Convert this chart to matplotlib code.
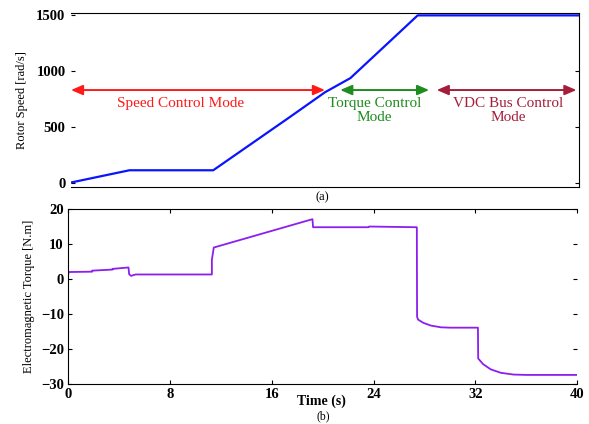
import matplotlib
matplotlib.use('Agg')
import matplotlib.pyplot as plt
import numpy as np

plt.rcParams['font.family'] = ['Liberation Serif', 'DejaVu Serif']

# rotor speed trace (s, rad/s)
speed_t = [0, 4.6, 11.2, 17.2, 20.0, 22.0, 25.1, 27.3, 40]
speed_w = [0, 110, 110, 585, 810, 937, 1266, 1500, 1500]

# electromagnetic torque trace (s, N.m)
torque_t = [0, 0.05, 1.9, 1.9, 3.5, 3.5, 4.75, 4.8, 4.95, 5.3, 11.3, 11.3, 11.45,
            19.2, 19.25, 23.6, 23.65, 27.4, 27.42, 27.5, 27.9, 28.5, 29.3, 30.0,
            32.2, 32.22, 32.6, 33.2, 34.0, 35.0, 36.0, 40]
torque_v = [1.0, 2.0, 2.1, 2.4, 2.7, 2.9, 3.3, 1.4, 0.9, 1.3, 1.3, 5.5, 9.0,
            17.1, 14.8, 14.8, 15.0, 14.8, -10.8, -11.6, -12.5, -13.3, -13.8, -13.9,
            -13.9, -22.7, -24.3, -25.8, -26.8, -27.3, -27.4, -27.4]

# operating modes: (start, end, label, colour)
modes = [(0.0, 20.0, 'Speed Control Mode', '#ff1a1a'),
         (21.2, 28.2, 'Torque Control\nMode', '#1e8c1e'),
         (28.8, 39.8, 'VDC Bus Control\nMode', '#a51d3a')]
mode_text_x = [8.6, 23.9, 34.4]
arrow_level = 830

fig = plt.figure(figsize=(5.89, 4.24), dpi=100)
ax1 = fig.add_axes([0.1205, 0.559, 0.8625, 0.41])
ax2 = fig.add_axes([0.1155, 0.0943, 0.8645, 0.4127])

# (a) rotor speed
ax1.plot(speed_t, speed_w, color='#0a14ff', lw=1.6)
ax1.set_xlim(0, 40)
ax1.set_ylim(-40, 1520)
ax1.set_xticks([])
ax1.set_yticks([0, 500, 1000, 1500])
ax1.spines['left'].set_visible(False)
ax1.tick_params(direction='in', right=True, length=3, labelsize=10.5, pad=4)
ax1.set_ylabel('Rotor Speed [rad/s]', fontsize=9, labelpad=6)
for lbl in ax1.get_yticklabels():
    lbl.set_fontweight('bold')

for (x0, x1, txt, col), tx in zip(modes, mode_text_x):
    ax1.annotate('', xy=(x0, arrow_level), xytext=(x1, arrow_level),
                 arrowprops=dict(arrowstyle='<|-|>,head_length=0.7,head_width=0.3',
                                 color=col, lw=1.4, shrinkA=0, shrinkB=0))
    ax1.text(tx, arrow_level - 65, txt, color=col, fontsize=11,
             ha='center', va='top', linespacing=1.1)

# (b) electromagnetic torque
ax2.plot(torque_t, torque_v, color='#8c1ef0', lw=1.3)
ax2.set_xlim(0, 40)
ax2.set_ylim(-30, 20)
ax2.set_xticks([0, 8, 16, 24, 32, 40])
ax2.set_yticks([-30, -20, -10, 0, 10, 20])
ax2.spines['right'].set_visible(False)
ax2.tick_params(direction='in', right=True, top=True, length=3, labelsize=10.5, pad=3)
ax2.set_ylabel('Electromagnetic Torque [N.m]', fontsize=9, labelpad=4)
for lbl in ax2.get_xticklabels() + ax2.get_yticklabels():
    lbl.set_fontweight('bold')

fig.text(0.548, 0.535, '(a)', fontsize=9, ha='center', va='center')
fig.text(0.546, 0.053, 'Time (s)', fontsize=10, fontweight='bold', ha='center', va='center')
fig.text(0.548, 0.018, '(b)', fontsize=8.5, ha='center', va='center')

fig.savefig('out.png', dpi=100)
